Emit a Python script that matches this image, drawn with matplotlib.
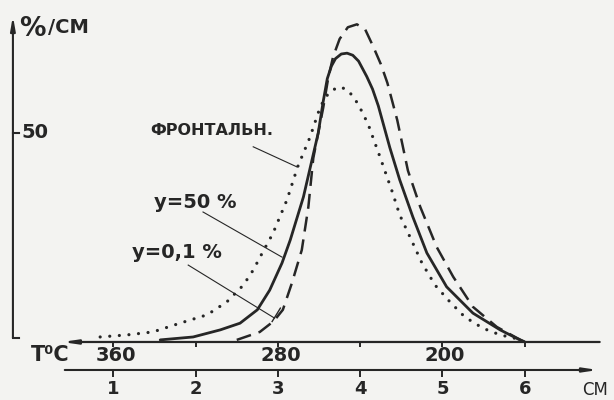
"""
Профиль зоны: % / см вдоль колонки, три режима (фронтальный, y=50 %, y=0,1 %).
"""

import matplotlib
matplotlib.use("Agg")
import matplotlib.pyplot as plt

# --- данные (x в см, y в %/см) ---
frontal_cm = [0.84, 1.17, 1.48, 1.81, 2.14, 2.38, 2.58, 2.70, 2.81, 2.94, 3.11,
              3.24, 3.39, 3.51, 3.57, 3.63, 3.73, 3.82, 3.91, 3.97, 4.03, 4.10,
              4.24, 4.39, 4.48, 4.61, 4.75, 4.91, 5.09, 5.27, 5.49, 5.70, 5.90,
              6.00]
frontal_val = [1.2, 1.7, 2.4, 4.5, 6.5, 9.6, 13.6, 17.2, 21.3, 26.0, 34.0,
               41.9, 49.0, 56.0, 58.3, 59.8, 61.0, 60.6, 58.9, 57.0, 54.8, 51.9,
               44.3, 35.9, 30.4, 24.9, 18.9, 13.6, 9.6, 6.0, 3.3, 1.7, 0.8,
               0.0]

y50_cm = [1.57, 1.97, 2.30, 2.54, 2.75, 2.90, 3.05, 3.15, 3.31, 3.49, 3.55,
          3.60, 3.65, 3.70, 3.77, 3.84, 3.91, 3.98, 4.08, 4.15, 4.22, 4.36,
          4.48, 4.64, 4.81, 5.05, 5.37, 5.70, 5.94, 6.00]
y50_val = [0.5, 1.2, 2.9, 4.5, 7.7, 12.4, 18.9, 24.4, 34.7, 50.0, 57.5,
           63.0, 66.0, 67.8, 68.9, 69.1, 68.6, 67.2, 63.5, 60.5, 56.5, 46.5,
           38.8, 29.9, 21.3, 13.2, 6.9, 2.9, 0.5, 0.0]

y01_cm = [2.50, 2.78, 2.95, 3.06, 3.17, 3.29, 3.37, 3.43, 3.55, 3.61, 3.67,
          3.75, 3.85, 3.96, 4.06, 4.16, 4.25, 4.33, 4.45, 4.58, 4.73, 4.93,
          5.13, 5.37, 5.66, 5.90, 6.00]
y01_val = [0.5, 2.4, 5.0, 7.7, 14.1, 22.0, 32.3, 44.0, 56.0, 63.0, 68.2,
           72.5, 75.3, 76.0, 74.8, 70.6, 66.5, 62.0, 53.1, 41.0, 32.3, 22.7,
           15.6, 8.4, 3.6, 1.0, 0.0]

cm_ticks = [1, 2, 3, 4, 5, 6]
cm_labels = ["1", "2", "3", "4", "5", "6"]
temp_ticks = [1, 3, 5]
temp_labels = ["360", "280", "200"]

INK = "#262626"
BG = "#f3f3f1"

fig = plt.figure(figsize=(6.14, 4.0), dpi=100, facecolor=BG)
ax = fig.add_axes([0, 0, 1, 1])
ax.set_facecolor(BG)
ax.set_xlim(-0.377, 7.084)
ax.set_ylim(-13.88, 81.82)
ax.axis("off")

# кривые
ax.plot(frontal_cm, frontal_val, color=INK, lw=2.3, linestyle=(0, (0.01, 3.0)),
        dash_capstyle="round")
ax.plot(y50_cm, y50_val, color=INK, lw=2.0, solid_capstyle="round",
        solid_joinstyle="round")
ax.plot(y01_cm, y01_val, color=INK, lw=1.8, linestyle=(0, (6.0, 3.2)))

# ось ординат
y_axis_x = -0.22
ax.annotate("", xy=(y_axis_x, 78.0), xytext=(y_axis_x, 1.0),
            arrowprops=dict(arrowstyle="-|>,head_width=0.14,head_length=0.8",
                            lw=1.5, color=INK, shrinkA=0, shrinkB=0))
ax.plot([y_axis_x, y_axis_x + 0.07], [1.0, 1.0], color=INK, lw=1.5)
ax.plot([y_axis_x, y_axis_x + 0.07], [50, 50], color=INK, lw=1.5)
ax.text(0.05, 50, "50", ha="center", va="center", fontsize=14,
        fontweight="bold", color=INK)
ax.text(0.02, 74.8, "%", ha="center", va="center", fontsize=19,
        fontweight="bold", color=INK)
ax.text(0.21, 75.2, "/CM", ha="left", va="center", fontsize=14,
        fontweight="bold", color=INK)

# ось температур (стрелка влево)
ax.annotate("", xy=(0.38, 0), xytext=(6.91, 0),
            arrowprops=dict(arrowstyle="-|>,head_width=0.12,head_length=0.8",
                            lw=1.6, color=INK, shrinkA=0, shrinkB=0))
ax.vlines(cm_ticks, -1.2, 0, color=INK, lw=1.4)
for pos, lab in zip(temp_ticks, temp_labels):
    ax.text(pos + 0.03, -3.3, lab, ha="center", va="center", fontsize=14,
            fontweight="bold", color=INK)
ax.text(0.23, -3.2, "T⁰C", ha="center", va="center", fontsize=15,
        fontweight="bold", color=INK)

# ось длины (стрелка вправо)
cm_axis_y = -6.7
ax.annotate("", xy=(6.89, cm_axis_y), xytext=(0.41, cm_axis_y),
            arrowprops=dict(arrowstyle="-|>,head_width=0.12,head_length=0.8",
                            lw=1.5, color=INK, shrinkA=0, shrinkB=0))
ax.vlines(cm_ticks, cm_axis_y - 1.7, cm_axis_y, color=INK, lw=1.4)
for pos, lab in zip(cm_ticks, cm_labels):
    ax.text(pos, -11.2, lab, ha="center", va="center", fontsize=13,
            fontweight="bold", color=INK)
ax.text(6.85, -11.5, "CM", ha="center", va="center", fontsize=12, color=INK)

# подписи кривых с выносками
ax.text(2.19, 50.7, "ФРОНТАЛЬН.", ha="center", va="center", fontsize=11.5,
        fontweight="bold", color=INK)
ax.plot([2.70, 3.23], [46.7, 41.9], color=INK, lw=0.8)

ax.text(1.99, 33.3, "y=50 %", ha="center", va="center", fontsize=14,
        fontweight="bold", color=INK)
ax.plot([2.09, 3.05], [31.1, 20.3], color=INK, lw=0.8)

ax.text(1.77, 21.5, "y=0,1 %", ha="center", va="center", fontsize=14,
        fontweight="bold", color=INK)
ax.plot([1.91, 2.96], [18.4, 5.7], color=INK, lw=0.8)
ax.plot([2.93, 3.03], [4.9, 8.1], color=INK, lw=1.0)

fig.savefig("out.png", dpi=100, facecolor=BG)
